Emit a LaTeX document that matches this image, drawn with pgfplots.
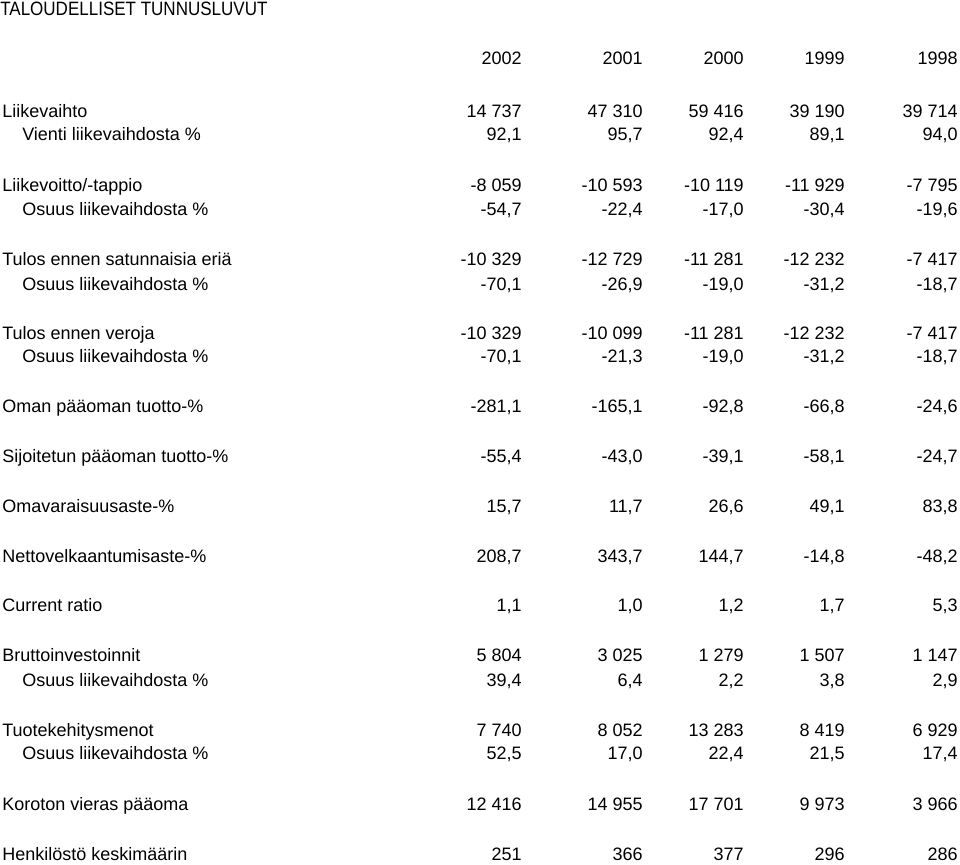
\documentclass[border=0pt]{standalone}
\usepackage{fontspec}
\setmainfont{Liberation Sans}
\usepackage{pgfplots}
\usepackage{pgfplotstable}
\pgfplotsset{compat=1.18}
\newcommand\ftab{\fontsize{13.5pt}{16pt}\selectfont}

\pgfplotstableread[col sep=semicolon]{
y;a;b;c;d;e
64;2002;2001;2000;1999;1998
117;14 737;47 310;59 416;39 190;39 714
140;92,1;95,7;92,4;89,1;94,0
191.5;-8 059;-10 593;-10 119;-11 929;-7 795
215;-54,7;-22,4;-17,0;-30,4;-19,6
265;-10 329;-12 729;-11 281;-12 232;-7 417
290;-70,1;-26,9;-19,0;-31,2;-18,7
339;-10 329;-10 099;-11 281;-12 232;-7 417
362;-70,1;-21,3;-19,0;-31,2;-18,7
412;-281,1;-165,1;-92,8;-66,8;-24,6
462;-55,4;-43,0;-39,1;-58,1;-24,7
512;15,7;11,7;26,6;49,1;83,8
562;208,7;343,7;144,7;-14,8;-48,2
611;1,1;1,0;1,2;1,7;5,3
661;5 804;3 025;1 279;1 507;1 147
686;39,4;6,4;2,2;3,8;2,9
736;7 740;8 052;13 283;8 419;6 929
759;52,5;17,0;22,4;21,5;17,4
810;12 416;14 955;17 701;9 973;3 966
860;251;366;377;296;286
}\tabdata

\begin{document}
\begin{tikzpicture}
\begin{axis}[
  scale only axis, width=720pt, height=648pt,
  xmin=0, xmax=960, ymin=0, ymax=864, y dir=reverse,
  hide axis, clip=false,
  point meta=explicit symbolic,
  nodes near coords,
  nodes near coords align={anchor=base east},
  every node near coord/.append style={anchor=base east, inner sep=0pt, font=\ftab, text=black},
]
\path (rel axis cs:0,0) rectangle (rel axis cs:1,1);
\addplot[draw=none, mark=none] table[x expr=522, y=y, meta=a] {\tabdata};
\addplot[draw=none, mark=none] table[x expr=643, y=y, meta=b] {\tabdata};
\addplot[draw=none, mark=none] table[x expr=744, y=y, meta=c] {\tabdata};
\addplot[draw=none, mark=none] table[x expr=845, y=y, meta=d] {\tabdata};
\addplot[draw=none, mark=none] table[x expr=958, y=y, meta=e] {\tabdata};

\begin{scope}[every node/.style={anchor=base west, inner sep=0pt, font=\ftab}]
\node at (axis cs:0,15) {\fontsize{14.5pt}{17pt}\selectfont\scalebox{0.88}[1]{TALOUDELLISET TUNNUSLUVUT}};
\node at (axis cs:2,117) {Liikevaihto};
\node at (axis cs:22,140) {Vienti liikevaihdosta \%};
\node at (axis cs:2,191.5) {Liikevoitto/-tappio};
\node at (axis cs:22,215) {Osuus liikevaihdosta \%};
\node at (axis cs:2,265) {Tulos ennen satunnaisia eriä};
\node at (axis cs:22,290) {Osuus liikevaihdosta \%};
\node at (axis cs:2,339) {Tulos ennen veroja};
\node at (axis cs:22,362) {Osuus liikevaihdosta \%};
\node at (axis cs:2,412) {Oman pääoman tuotto-\%};
\node at (axis cs:2,462) {Sijoitetun pääoman tuotto-\%};
\node at (axis cs:2,512) {Omavaraisuusaste-\%};
\node at (axis cs:2,562) {Nettovelkaantumisaste-\%};
\node at (axis cs:2,611) {Current ratio};
\node at (axis cs:2,661) {Bruttoinvestoinnit};
\node at (axis cs:22,686) {Osuus liikevaihdosta \%};
\node at (axis cs:2,736) {Tuotekehitysmenot};
\node at (axis cs:22,759) {Osuus liikevaihdosta \%};
\node at (axis cs:2,810) {Koroton vieras pääoma};
\node at (axis cs:2,860) {Henkilöstö keskimäärin};
\end{scope}
\end{axis}
\end{tikzpicture}
\end{document}
